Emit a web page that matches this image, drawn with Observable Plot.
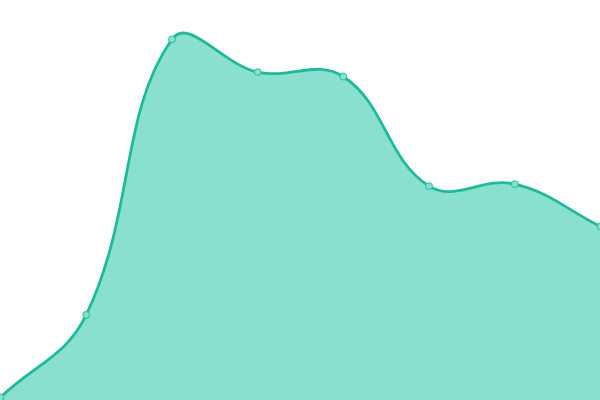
<!DOCTYPE html>
<html><head><meta charset="utf-8">
<script src="https://cdn.jsdelivr.net/npm/d3@7"></script>
<script src="https://cdn.jsdelivr.net/npm/@observablehq/plot@0.6"></script>
<style>body{margin:0;background:#fff}svg{display:block}</style>
</head><body><div id="chart"></div>
<script>
const idx = [0,1,2,3,4,5,6,7];
const values = [0.8, 21.4, 90.3, 82.1, 81, 53.6, 54.1, 43.5];
const data = idx.map((i) => ({i, v: values[i]}));

// Distance-weighted cubic spline (tension 0.4)
function TensionCurve(context, t) { this._context = context; this._t = t; }
TensionCurve.prototype = {
  areaStart() { this._line = 0; },
  areaEnd() { this._line = NaN; },
  lineStart() { this._pts = []; },
  lineEnd() {
    const p = this._pts, c = this._context, n = p.length, t = this._t;
    if (n) {
      if (this._line) c.lineTo(p[0][0], p[0][1]); else c.moveTo(p[0][0], p[0][1]);
      const cp = p.map((pt, i) => {
        const prev = p[i - 1] || pt, next = p[i + 1] || pt;
        const d01 = Math.hypot(pt[0] - prev[0], pt[1] - prev[1]);
        const d12 = Math.hypot(next[0] - pt[0], next[1] - pt[1]);
        let s01 = d01 / (d01 + d12), s12 = d12 / (d01 + d12);
        if (!isFinite(s01)) s01 = 0;
        if (!isFinite(s12)) s12 = 0;
        const fa = t * s01, fb = t * s12;
        return {
          px: pt[0] - fa * (next[0] - prev[0]), py: pt[1] - fa * (next[1] - prev[1]),
          nx: pt[0] + fb * (next[0] - prev[0]), ny: pt[1] + fb * (next[1] - prev[1])
        };
      });
      for (let i = 1; i < n; ++i) {
        c.bezierCurveTo(cp[i - 1].nx, cp[i - 1].ny, cp[i].px, cp[i].py, p[i][0], p[i][1]);
      }
    }
    if (this._line || (this._line !== 0 && n === 1)) c.closePath();
    this._line = 1 - this._line;
  },
  point(x, y) { this._pts.push([+x, +y]); }
};
const curve = (ctx) => new TensionCurve(ctx, 0.4);

const chart = Plot.plot({
  width: 600, height: 400,
  margin: 0,
  x: {domain: [0, 7], range: [0, 600], axis: null},
  y: {domain: [0, 100], range: [400, 0], axis: null},
  marks: [
    Plot.areaY(data, {x: "i", y: "v", curve, fill: "#8ae0cf"}),
    Plot.lineY(data, {x: "i", y: "v", curve, stroke: "#1abc9c", strokeWidth: 2.8}),
    Plot.dot(data, {x: "i", y: "v", r: 3.3, fill: "#8ae0cf", stroke: "#1abc9c", strokeOpacity: 0.7, strokeWidth: 1.2})
  ]
});
document.getElementById("chart").append(chart);
</script></body></html>
